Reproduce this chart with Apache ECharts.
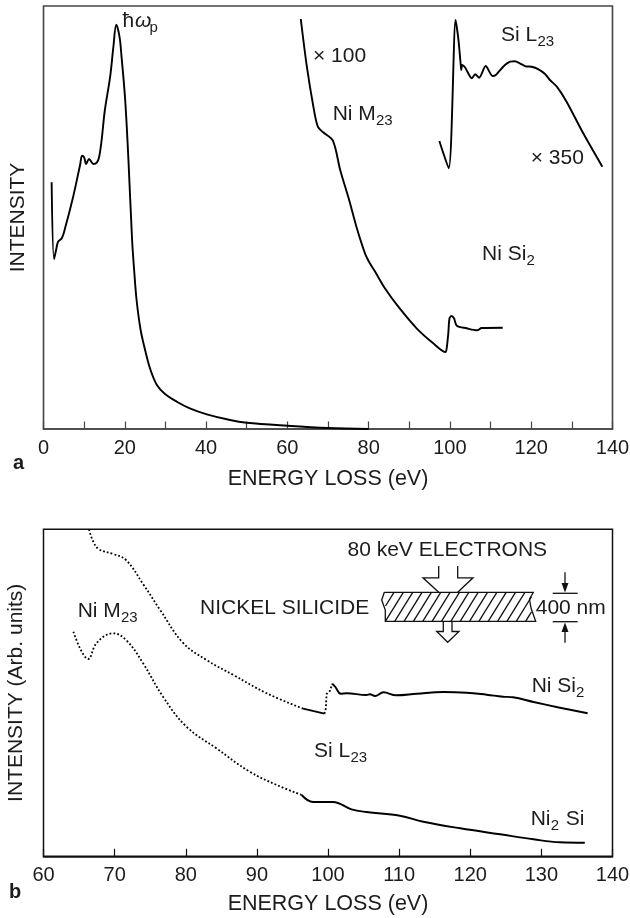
<!DOCTYPE html>
<html><head><meta charset="utf-8">
<style>html,body{margin:0;padding:0;background:#fff}#c{width:630px;height:918px}</style>
<script src="https://cdn.jsdelivr.net/npm/echarts@6/dist/echarts.min.js"></script>
</head><body><div id="c"></div>
<script>
// Panel a: energy loss (eV) and intensity (arbitrary units)
const ticksA = [0,20,40,60,80,100,120,140];
const ticksB = [60,70,80,90,100,110,120,130,140];
const plasmonEv = [2.0,2.6,3.1,3.6,4.5,5.3,7.3,9.0,9.5,10.0,10.5,11.2,12.3,13.1,13.7,14.3,15.1,16.4,17.2,17.9,18.7,19.2,20.1,20.9,21.8,22.3,22.9,23.9,25,26.2,27.9,29.9,32.8,36,40.2,45.9,50,60,70,80];
const plasmonI = [246.7,170,179,187.3,190.7,200.7,232.3,264,273.3,271.7,265,270,265,266.3,272.3,289,319,352.3,382.3,404.3,392.3,372.3,329,269,189,159,129,99,79,60.7,44,35,27.3,20.7,14.7,9,6.3,3.3,1,0];
const niM23Ev = [63.3,64.8,66.4,67.5,68.8,71.2,73,75.2,77.1,79.1,80.3,81.6,84,87.3,91.8,95.9,98.9,99.2,99.6,99.9,100.4,101,101.7,104.1,106.7,107.8,113];
const niM23I = [410,362.3,322.3,302.3,296.7,288.3,259,229,200.7,175.7,165.7,157.3,140.7,122.3,100.7,85.7,77,80.7,95.7,110.7,113,110.7,103.3,100.7,98.7,101,101.3];
const siL23Ev = [97.4,99.7,101.4,102.1,102.7,102.8,103,103.7,105.4,106.2,107.2,108.8,110.5,111.3,113.1,114.8,116,117.2,118.6,120.1,121.8,123.4,124.6,126.3,128.7,132.8,137.5];
const siL23I = [288,260.7,409,389,362.3,359,364,361.7,350.7,354.7,351.3,363,353,354,362.3,367.3,367.7,365.7,362.7,362.3,359.7,355,349,342.3,327.3,295.7,262.3];
// Panel b: dotted stretches and solid stretches of each trace
const niSi2DotEv = [66.4,67,67.8,69.8,71.6,74,76.4,79.6,82.9,86.7,91.4,96.5];
const niSi2DotI = [327,314.6,307,302.3,296.3,272.3,246.3,213.6,196.3,181.3,163,147.6];
const niSi2EdgeEv = [96.5,99.5];
const niSi2EdgeI = [147.6,142.6];
const niSi2RiseEv = [99.5,99.7,99.8,100.3,100.6];
const niSi2RiseI = [142.6,148,162.3,165.6,172.6];
const niSi2SolidEv = [100.6,101,101.8,102.6,105.4,105.9,106.6,107.8,109.6,112.5,116.2,119.5,122.3,124.6,126,128.9,132.6,136.5];
const niSi2SolidI = [172.6,169.6,162.6,163,161.3,162,160.3,164,161,162.6,164.3,163.6,161.6,159.6,159,154.3,148.6,143];
const ni2SiDotEv = [64.2,66.3,67.5,69.8,71.7,74,76.8,80.1,84.3,89,92.8,96.3];
const ni2SiDotI = [224.6,197.3,213.6,223,215.6,193,159.6,129.6,108,84.6,71.3,61.3];
const ni2SiSolidEv = [96.3,97.9,100.7,103.3,105.4,110.1,113.4,118.6,124.2,128.9,132.6,136.1];
const ni2SiSolidI = [61.3,54.3,54.3,47,44.3,40.6,34.6,28,22,17,14,13.6];

const zip = (a,b) => a.map((v,i)=>[v,b[i]]);
const FONT = '"Liberation Sans", Arial, sans-serif';
const INK = '#1c1c1c';

function axisX(idx,min,max,labels,name,gap,border){
  return {gridIndex:idx,type:'value',min,max,interval:10,name,nameLocation:'middle',nameGap:gap,
    nameTextStyle:{fontFamily:FONT,fontSize:21.5,color:INK},
    axisLine:{show:true,onZero:false,lineStyle:{color:border,width:1.6}},
    axisTick:{show:true,inside:true,length:7.5,lineStyle:{color:border,width:1.2}},
    splitLine:{show:false},
    axisLabel:{show:true,margin:9,fontFamily:FONT,fontSize:20,color:INK,showMinLabel:true,showMaxLabel:true,hideOverlap:false,
      formatter:v=>labels.includes(v)?String(v):''}};
}
function axisY(idx,max,name,gap){
  return {gridIndex:idx,type:'value',min:0,max,name,nameLocation:'middle',nameGap:gap,
    nameTextStyle:{fontFamily:FONT,fontSize:21,color:INK},
    axisLine:{show:false},axisTick:{show:false},axisLabel:{show:false},splitLine:{show:false}};
}
function line(idx,data,dotted,smooth){
  return {type:'line',xAxisIndex:idx,yAxisIndex:idx,data,showSymbol:false,symbol:'none',silent:true,
    smooth:smooth||0,clip:false,
    lineStyle:{color:'#000',width:dotted?1.8:1.9,type:dotted?[1.8,2.1]:'solid',cap:'butt',join:'round'}};
}

// Annotation text: [string, left x, baseline y, size, weight, italic]
const notes = [
  ['ħ',122.5,28,21],['ω',135,28,21,'normal','italic'],['p',149.5,33,15],
  ['× 100',313,63.5,21],
  ['Ni M',332.7,121.7,21],['23',376,126.5,15],
  ['Si L',501,42.7,21],['23',537.5,47.5,15],
  ['× 350',530.7,165,21],
  ['Ni Si',482,261.7,21],['2',526.5,266.5,15],
  ['a',13,470.7,20,'bold'],
  ['Ni M',77.7,618,21],['23',121,623,15],
  ['NICKEL SILICIDE',200,615,21],
  ['80 keV ELECTRONS',347.5,557,21],
  ['400 nm',535.7,615,21],
  ['Ni Si',531.7,693.3,21],['2',576,698,15],
  ['Si L',314,758.3,21],['23',350.5,763,15],
  ['Ni',530.7,826.7,21],['2',550.7,831.5,15],['Si',565.7,826.7,21],
  ['b',9,899,20,'bold']
];
const graphic = notes.map(n=>({type:'text',silent:true,x:n[1],y:n[2]-(n[3]*0.347),
  style:{text:n[0],fill:INK,font:`${n[5]||'normal'} ${n[4]||'normal'} ${n[3]}px ${FONT}`,align:'left',verticalAlign:'middle'}}));

// Schematic of the specimen
const S = {stroke:'#111',lineWidth:1.3,fill:null};
const poly = pts=>({type:'polyline',silent:true,shape:{points:pts},style:S});
graphic.push(
  poly([[384.3,592.3],[533.3,592.3],[529.5,599],[531,608],[535.7,621.3],[385.3,621.3],[385.3,610],[381.7,600],[384.3,592.3]]),
  poly([[438.7,566],[438.7,577.8],[423,577.8],[438.7,592.3]]),
  poly([[457.7,566],[457.7,577.8],[473,577.8],[457.7,592.3]]),
  poly([[443.3,621.3],[443.3,631.5],[436.7,631.5],[447.7,642.3],[459,631.5],[452,631.5],[452,621.3]]),
  poly([[552.7,593.3],[577.7,593.3]]),
  poly([[552.7,621.7],[577.7,621.7]]),
  poly([[565,572.3],[565,586]]),
  poly([[565,630],[565,642.7]]),
  {type:'polygon',silent:true,shape:{points:[[561.5,583],[568.5,583],[565,592.5]]},style:{fill:'#111'}},
  {type:'polygon',silent:true,shape:{points:[[561.5,632],[568.5,632],[565,622.5]]},style:{fill:'#111'}}
);
// Diagonal hatching of the plate, cut at its left and right ends
for(let bx=376;bx<532;bx+=9.35){
  const x0=Math.max(bx,385.5), x1=Math.min(bx+18,531.5);
  graphic.push(poly([[x0,621.3-29*(x0-bx)/18],[x1,621.3-29*(x1-bx)/18]]));
}

const chart = echarts.init(document.getElementById('c'),null,{renderer:'canvas'});
chart.setOption({
  animation:false,backgroundColor:'#fff',
  grid:[
    {left:43.5,top:6,width:569,height:423,outerBoundsMode:'none',show:true,borderColor:'#444',borderWidth:1.6,backgroundColor:'transparent'},
    {left:43.5,top:529.3,width:569,height:327,outerBoundsMode:'none',show:true,borderColor:'#111',borderWidth:1.5,backgroundColor:'transparent'}
  ],
  xAxis:[axisX(0,0,140,ticksA,'ENERGY LOSS (eV)',39,'#444'),axisX(1,60,140,ticksB,'ENERGY LOSS (eV)',37,'#111')],
  yAxis:[axisY(0,423,'INTENSITY',15),axisY(1,327,'INTENSITY (Arb. units)',17)],
  series:[
    line(0,zip(plasmonEv,plasmonI),false,0.35),
    line(0,zip(niM23Ev,niM23I),false,0.3),
    line(0,zip(siL23Ev,siL23I),false,0.25),
    line(1,zip(niSi2DotEv,niSi2DotI),true,0.4),
    line(1,zip(niSi2EdgeEv,niSi2EdgeI),false),
    line(1,zip(niSi2RiseEv,niSi2RiseI),true),
    line(1,zip(niSi2SolidEv,niSi2SolidI),false,0.4),
    line(1,zip(ni2SiDotEv,ni2SiDotI),true,0.4),
    line(1,zip(ni2SiSolidEv,ni2SiSolidI),false,0.4)
  ],
  graphic
});
</script></body></html>
